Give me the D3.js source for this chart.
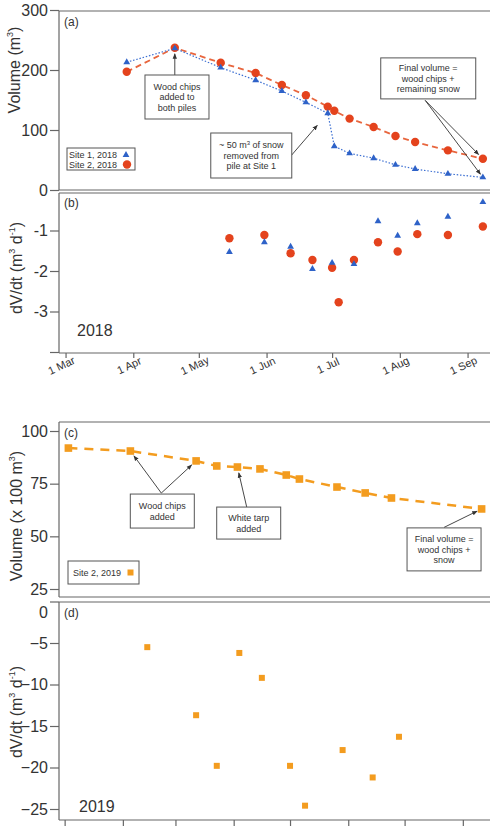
<!DOCTYPE html>
<html>
<head>
<meta charset="utf-8">
<script src="https://cdn.jsdelivr.net/npm/d3@7"></script>
<style>
  body { margin: 0; background: #fff; }
  svg { display: block; font-family: "Liberation Sans", Arial, sans-serif; }
</style>
</head>
<body>
<div id="chart"></div>
<script>
// 2018 piles, volumes (m3)
const dates2018 = ["2018-03-29","2018-04-20","2018-05-11","2018-05-27","2018-06-08","2018-06-19","2018-06-29","2018-07-02","2018-07-09","2018-07-20","2018-07-30","2018-08-08","2018-08-23","2018-09-08"]
const site1Vol = [213, 236, 204, 183, 165, 146, 128, 73, 61, 53, 42, 35, 27, 21]
const site2Vol = [197, 237, 212, 195, 175, 158, 139, 132, 119, 105, 90, 80, 66, 52]

// 2018 rates dV/dt (m3 d-1)
const site1RateDates = ["2018-05-15","2018-05-31","2018-06-12","2018-06-22","2018-07-01","2018-07-11","2018-07-22","2018-07-31","2018-08-09","2018-08-23","2018-09-08"]
const site1Rate = [-1.53, -1.29, -1.40, -1.95, -1.80, -1.83, -0.77, -1.13, -0.82, -0.66, -0.30]
const site2RateDates = ["2018-05-15","2018-05-31","2018-06-12","2018-06-22","2018-07-01","2018-07-04","2018-07-11","2018-07-22","2018-07-31","2018-08-09","2018-08-23","2018-09-08"]
const site2Rate = [-1.19, -1.11, -1.56, -1.73, -1.92, -2.77, -1.73, -1.29, -1.52, -1.09, -1.11, -0.90]

// 2019 pile, volume (x 100 m3) and rates
const dates2019 = ["2019-01-03","2019-02-05","2019-03-12","2019-03-23","2019-04-03","2019-04-15","2019-04-29","2019-05-06","2019-05-26","2019-06-10","2019-06-24","2019-08-11"]
const vol2019 = [91.9, 90.5, 85.8, 83.4, 82.9, 82.0, 79.1, 77.2, 73.4, 70.6, 68.2, 63.0]
const rateDates2019 = ["2019-02-14","2019-03-12","2019-03-23","2019-04-04","2019-04-16","2019-05-01","2019-05-09","2019-05-29","2019-06-14","2019-06-28"]
const rate2019 = [-5.5, -13.7, -19.8, -6.2, -9.2, -19.8, -24.6, -17.9, -21.2, -16.3]

const ticksA = [0, 100, 200, 300]
const ticksB = [-4, -3, -2, -1]
const ticksC = [25, 50, 75, 100]
const ticksD = [-25, -20, -15, -10, -5, 0]

const parse = d3.utcParse("%Y-%m-%d")

const RED = "#e4431d"
const BLUE = "#2e62c8"
const ORANGE = "#f39c1f"
const AXIS = "#666"
const TEXT = "#333"

const width = 490
const height = 826
const left = 59

const svg = d3.select("#chart").append("svg")
  .attr("width", width)
  .attr("height", height)

svg.append("defs").append("marker")
  .attr("id", "arrow")
  .attr("viewBox", "0 0 10 10")
  .attr("refX", 9)
  .attr("refY", 5)
  .attr("markerWidth", 6)
  .attr("markerHeight", 6)
  .attr("orient", "auto")
  .append("path")
  .attr("d", "M0,1 L10,5 L0,9 Z")
  .attr("fill", "#333")

// scales
const x2018 = d3.scaleUtc().domain([parse("2018-02-26"), parse("2018-09-12")]).range([left, 491.6])
const x2019 = d3.scaleUtc().domain([parse("2018-12-29"), parse("2019-08-16")]).range([left, 491])
const yA = d3.scaleLinear().domain([0, 300]).range([190, 10])
const yB = d3.scaleLinear().domain([-4, 0]).range([352, 190])
const yC = d3.scaleLinear().domain([25, 100]).range([589, 431])
const yD = d3.scaleLinear().domain([-25, 0]).range([809, 601.5])

// frames
function frame(top, bottom) {
  const g = svg.append("g").attr("stroke", AXIS).attr("stroke-width", 1.2)
  g.append("line").attr("x1", left).attr("x2", width).attr("y1", top).attr("y2", top)
  g.append("line").attr("x1", left).attr("x2", width).attr("y1", bottom).attr("y2", bottom)
  g.append("line").attr("x1", left).attr("x2", left).attr("y1", top).attr("y2", bottom)
}
frame(11, 190)
frame(193, 353)
frame(422, 597)
frame(602, 820)

function yAxis(scale, values, fmt) {
  const g = svg.append("g")
    .attr("transform", `translate(${left},0)`)
    .call(d3.axisLeft(scale).tickValues(values).tickSize(9).tickSizeOuter(0).tickPadding(2).tickFormat(fmt || d3.format("d")))
  g.select(".domain").remove()
  g.selectAll("line").attr("stroke", AXIS).attr("stroke-width", 1.2)
  g.selectAll("text").attr("fill", TEXT).attr("font-size", "16px").attr("font-family", "Liberation Sans, Arial, sans-serif")
  return g
}
yAxis(yA, ticksA)
yAxis(yB, ticksB, d => d === -4 ? "" : d)
yAxis(yC, ticksC)
const gD = yAxis(yD, ticksD)
gD.selectAll(".tick").filter(d => d === 0).select("text").attr("dy", "1.0em")

// x axes
const xb = svg.append("g")
  .attr("transform", "translate(0,353)")
  .call(d3.axisBottom(x2018).ticks(d3.utcMonth.every(1)).tickSize(5).tickSizeOuter(0).tickFormat(d3.utcFormat("%-d %b")))
xb.select(".domain").remove()
xb.selectAll("line").attr("stroke", AXIS).attr("stroke-width", 1.2)
xb.selectAll("text")
  .attr("fill", TEXT)
  .attr("font-size", "11px")
  .attr("font-family", "Liberation Sans, Arial, sans-serif")
  .attr("text-anchor", "middle")
  .attr("dy", null)
  .attr("y", 0)
  .attr("transform", "translate(-3,16) rotate(-25)")

const xd = svg.append("g")
  .attr("transform", "translate(0,820)")
  .call(d3.axisBottom(x2019).ticks(d3.utcMonth.every(1)).tickSize(6).tickSizeOuter(0).tickFormat(""))
xd.select(".domain").remove()
xd.selectAll("line").attr("stroke", AXIS).attr("stroke-width", 1.2)

// axis titles; parts are [text, superscript?]
function yTitle(x, y, parts) {
  const t = svg.append("text")
    .attr("transform", `translate(${x},${y}) rotate(-90)`)
    .attr("text-anchor", "middle")
    .attr("fill", TEXT)
    .attr("font-size", "16px")
  let up = false
  parts.forEach(([txt, sup]) => {
    const s = t.append("tspan").text(txt)
    if (sup) { s.attr("font-size", "9px").attr("dy", up ? 0 : -7); up = true }
    else { if (up) s.attr("dy", 7); up = false }
  })
}
yTitle(20, 70, [["Volume (m"], ["3", true], [")"]])
yTitle(22, 268, [["dV/dt (m"], ["3", true], [" d"], ["-1", true], [")"]])
yTitle(22, 516, [["Volume (x 100 m"], ["3", true], [")"]])
yTitle(22, 712, [["dV/dt (m"], ["3", true], [" d"], ["-1", true], [")"]])

// panel labels
const panelLabels = [["(a)", 22], ["(b)", 203], ["(c)", 433], ["(d)", 613]]
panelLabels.forEach(([t, y]) => {
  svg.append("text").attr("x", 64).attr("y", y + 4).attr("fill", TEXT).attr("font-size", "12px").text(t)
})
svg.append("text").attr("x", 77).attr("y", 336).attr("fill", TEXT).attr("font-size", "16px").text("2018")
svg.append("text").attr("x", 79).attr("y", 812).attr("fill", TEXT).attr("font-size", "16px").text("2019")

// panel (a) lines
const d2018 = dates2018.map(parse)
const lineA1 = d3.line().x((d, i) => x2018(d2018[i])).y(d => yA(d))
svg.append("path").datum(site2Vol).attr("d", lineA1)
  .attr("fill", "none").attr("stroke", "#e8663e").attr("stroke-width", 1.8).attr("stroke-dasharray", "6,4")
svg.append("path").datum(site1Vol).attr("d", lineA1)
  .attr("fill", "none").attr("stroke", "#3c6fd2").attr("stroke-width", 1.2).attr("stroke-dasharray", "1.5,1.8")

const tri = d3.symbol(d3.symbolTriangle)
svg.append("g").selectAll("circle").data(site2Vol).join("circle")
  .attr("cx", (d, i) => x2018(d2018[i])).attr("cy", d => yA(d)).attr("r", 4.2).attr("fill", RED)
svg.append("g").selectAll("path").data(site1Vol).join("path")
  .attr("d", tri.size(20)())
  .attr("transform", (d, i) => `translate(${x2018(d2018[i])},${yA(d)})`)
  .attr("fill", BLUE)

// panel (b)
svg.append("g").selectAll("circle").data(site2Rate).join("circle")
  .attr("cx", (d, i) => x2018(parse(site2RateDates[i]))).attr("cy", d => yB(d)).attr("r", 4.2).attr("fill", RED)
svg.append("g").selectAll("path").data(site1Rate).join("path")
  .attr("d", tri.size(20)())
  .attr("transform", (d, i) => `translate(${x2018(parse(site1RateDates[i]))},${yB(d)})`)
  .attr("fill", BLUE)

// panel (c)
const d2019 = dates2019.map(parse)
svg.append("path").datum(vol2019)
  .attr("d", d3.line().x((d, i) => x2019(d2019[i])).y(d => yC(d)))
  .attr("fill", "none").attr("stroke", ORANGE).attr("stroke-width", 2.5).attr("stroke-dasharray", "9,7")
svg.append("g").selectAll("rect").data(vol2019).join("rect")
  .attr("x", (d, i) => x2019(d2019[i]) - 3.8).attr("y", d => yC(d) - 3.8)
  .attr("width", 7.6).attr("height", 7.6).attr("fill", ORANGE)

// panel (d)
svg.append("g").selectAll("rect").data(rate2019).join("rect")
  .attr("x", (d, i) => x2019(parse(rateDates2019[i])) - 3).attr("y", d => yD(d) - 3)
  .attr("width", 6).attr("height", 6).attr("fill", ORANGE)

// annotation boxes: centre in data units, size in px
function note(cx, cy, w, h, lines) {
  const g = svg.append("g")
  g.append("rect").attr("x", cx - w / 2).attr("y", cy - h / 2).attr("width", w).attr("height", h)
    .attr("fill", "#fff").attr("stroke", "#555").attr("stroke-width", 1)
  const lh = 10.5
  lines.forEach((l, i) => {
    const t = g.append("text").attr("x", cx).attr("y", cy - (lines.length - 1) * lh / 2 + i * lh + 3.2)
      .attr("text-anchor", "middle").attr("fill", TEXT).attr("font-size", "9px")
    if (Array.isArray(l)) {
      t.append("tspan").text(l[0])
      t.append("tspan").text(l[1]).attr("font-size", "6px").attr("dy", -3)
      t.append("tspan").text(l[2]).attr("dy", 3)
    } else t.text(l)
  })
}
function arrow(x1, y1, x2, y2, back) {
  const dx = x2 - x1, dy = y2 - y1, len = Math.hypot(dx, dy)
  svg.append("line").attr("x1", x1).attr("y1", y1)
    .attr("x2", x2 - dx / len * back).attr("y2", y2 - dy / len * back)
    .attr("stroke", "#333").attr("stroke-width", 0.9).attr("marker-end", "url(#arrow)")
}

const p = (xs, ys) => [xs, ys]
// (a)
const wc = p(x2018(parse("2018-04-21")), yA(155))
arrow(x2018(d2018[1]), wc[1] - 22, x2018(d2018[1]), yA(site2Vol[1]), 6)
note(wc[0], wc[1], 64, 44, ["Wood chips", "added to", "both piles"])

const sn = p(x2018(parse("2018-05-25")), yA(57.5))
arrow(sn[0] + 40, sn[1], x2018(d2018[6]), yA(site1Vol[6]), 16)
note(sn[0], sn[1], 81, 45, [["~ 50 m", "3", " of snow"], "removed from", "pile at Site 1"])

const fv = p(x2018(parse("2018-08-14")), yA(186))
arrow(fv[0] - 3, fv[1] + 22, x2018(d2018[13]), yA(site2Vol[13]), 6)
arrow(fv[0] - 3, fv[1] + 22, x2018(d2018[13]), yA(site1Vol[13]), 4)
note(fv[0], fv[1], 95, 41, ["Final volume =", "wood chips +", "remaining snow"])

// (c)
const wc2 = p(x2019(parse("2019-02-22")), yC(62))
arrow(wc2[0] - 1, wc2[1] - 18, x2019(d2019[1]), yC(vol2019[1]), 6)
arrow(wc2[0] - 1, wc2[1] - 18, x2019(d2019[2]), yC(vol2019[2]), 6)
note(wc2[0], wc2[1], 64, 34, ["Wood chips", "added"])

const wt = p(x2019(parse("2019-04-09")), yC(56.3))
arrow(wt[0] - 2, wt[1] - 16, x2019(d2019[4]), yC(vol2019[4]), 6)
note(wt[0], wt[1], 64, 32, ["White tarp", "added"])

const fv2 = p(x2019(parse("2019-07-22")), yC(43.8))
arrow(fv2[0], fv2[1] - 22, x2019(d2019[11]), yC(vol2019[11]), 5)
note(fv2[0], fv2[1], 74, 43, ["Final volume =", "wood chips +", "snow"])

// legends
const la = svg.append("g")
la.append("rect").attr("x", 67).attr("y", 148).attr("width", 68).attr("height", 22)
  .attr("fill", "#fff").attr("stroke", "#555").attr("stroke-width", 1)
la.append("text").attr("x", 69).attr("y", 158).attr("fill", TEXT).attr("font-size", "9px").text("Site 1, 2018")
la.append("text").attr("x", 69).attr("y", 168).attr("fill", TEXT).attr("font-size", "9px").text("Site 2, 2018")
la.append("path").attr("d", tri.size(20)()).attr("transform", "translate(126,155)").attr("fill", BLUE)
la.append("circle").attr("cx", 127).attr("cy", 164.5).attr("r", 4.2).attr("fill", RED)

const lc = svg.append("g")
lc.append("rect").attr("x", 68).attr("y", 561).attr("width", 71).attr("height", 23)
  .attr("fill", "#fff").attr("stroke", "#555").attr("stroke-width", 1)
lc.append("text").attr("x", 73).attr("y", 576).attr("fill", TEXT).attr("font-size", "9px").text("Site 2, 2019")
lc.append("rect").attr("x", 127.5).attr("y", 569.5).attr("width", 6).attr("height", 6).attr("fill", ORANGE)
</script>
</body>
</html>
